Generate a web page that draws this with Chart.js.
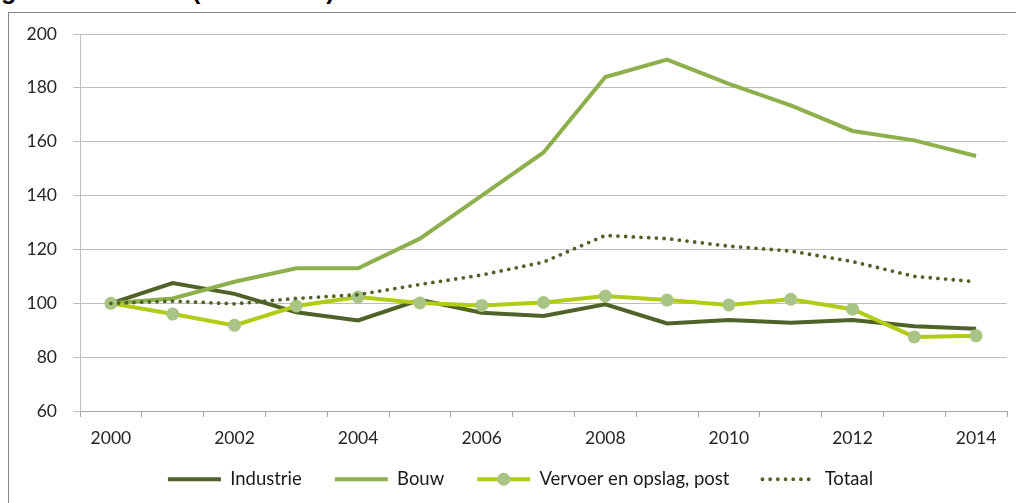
<!DOCTYPE html>
<html>
<head>
<meta charset="utf-8">
<script src="https://cdn.jsdelivr.net/npm/chart.js@4.4.1/dist/chart.umd.min.js"></script>
<style>
    html, body { margin: 0; padding: 0; background: #fff; overflow: hidden; }
    #wrap { position: relative; width: 1016px; height: 503px; overflow: hidden; }
    #frame { position: absolute; left: 8px; top: 12px; width: 1100px; height: 600px;
             border-left: 1px solid #868686; border-top: 1px solid #868686; }
    .title { position: absolute; top: -24px; line-height: 28px; font: bold 25px "Liberation Sans", Arial, sans-serif; color: #000; white-space: nowrap; }
    canvas { position: absolute; left: 0; top: 0; }
</style>
</head>
<body>
<div id="wrap">
    <div class="title" style="left:1px">g</div>
    <div class="title" style="left:192px">(2000 = 100)</div>
    <div id="frame"></div>
    <canvas id="chart" width="1016" height="503"></canvas>
</div>
<script>
// index, 2000 = 100
const years = ['2000', '2001', '2002', '2003', '2004', '2005', '2006', '2007',
               '2008', '2009', '2010', '2011', '2012', '2013', '2014'];
const industrie = [100, 107.5, 103.5, 96.7, 93.6, 101.3, 96.5, 95.3, 99.6, 92.5, 93.8, 92.8, 93.8, 91.5, 90.5];
const bouw      = [100, 101.8, 108, 113, 113, 124, 140, 156, 184, 190.5, 181.5, 173.5, 164, 160.5, 154.7];
const vervoer   = [100, 96, 91.8, 99, 102.3, 100.1, 99.2, 100.3, 102.7, 101.2, 99.4, 101.5, 97.8, 87.5, 87.9];
const totaal    = [100, 100.8, 99.8, 101.8, 103.2, 107, 110.5, 115.3, 125.2, 124, 121.2, 119.4, 115.5, 110, 108];
const yMin = 60, yMax = 200, yStep = 20;

const tickFont = { family: 'Lato, "Open Sans", sans-serif', size: 17.5 };
const legendFont = { family: 'Lato, "Open Sans", sans-serif', size: 18.5 };
const markerColor = '#A9C585';
const sampleWidth = 53;

// nudge the legend into the place it has in the original, and add the
// circle marker on the "Vervoer" sample
const legendTweaks = {
    id: 'legendTweaks',
    afterLayout(chart) {
        const lg = chart.legend;
        lg.top -= 14; lg.bottom -= 14;
        lg.left += 17; lg.right += 17;
    },
    afterDraw(chart) {
        const box = chart.legend.legendHitBoxes[2];
        if (!box) return;
        const ctx = chart.ctx;
        ctx.save();
        ctx.fillStyle = markerColor;
        ctx.beginPath();
        ctx.arc(box.left + sampleWidth / 2, box.top + box.height / 2, 6.5, 0, Math.PI * 2);
        ctx.fill();
        ctx.restore();
    }
};

new Chart(document.getElementById('chart'), {
    type: 'line',
    data: {
        labels: years,
        datasets: [
            { label: 'Industrie', data: industrie, borderColor: '#4F6228', borderWidth: 4,
              pointRadius: 0, order: 4 },
            { label: 'Bouw', data: bouw, borderColor: '#8DB04D', borderWidth: 4,
              pointRadius: 0, order: 3 },
            { label: 'Vervoer en opslag, post', data: vervoer, borderColor: '#B2CB14', borderWidth: 4,
              pointRadius: 6.5, pointBackgroundColor: markerColor, pointBorderColor: markerColor,
              pointBorderWidth: 0, order: 2 },
            { label: 'Totaal', data: totaal, borderColor: '#4F6228', borderWidth: 3.8,
              borderDash: [0, 7.7], borderCapStyle: 'round', pointRadius: 0, order: 1 }
        ]
    },
    options: {
        responsive: false,
        animation: false,
        layout: { padding: { top: 34, right: 9, left: 0, bottom: 0 } },
        plugins: {
            tooltip: { enabled: false },
            legend: {
                position: 'bottom',
                maxHeight: 52,
                labels: {
                    usePointStyle: true,
                    pointStyleWidth: sampleWidth,
                    boxWidth: sampleWidth,
                    padding: 33,
                    color: '#1a1a1a',
                    font: legendFont,
                    sort: (a, b) => a.datasetIndex - b.datasetIndex,
                    generateLabels: chart => chart.data.datasets.map((ds, i) => ({
                        text: ds.label,
                        datasetIndex: i,
                        strokeStyle: ds.borderColor,
                        fillStyle: ds.borderColor,
                        lineWidth: ds.borderWidth,
                        lineDash: ds.borderDash || [],
                        lineCap: ds.borderCapStyle || 'butt',
                        pointStyle: 'line',
                        fontColor: '#1a1a1a',
                        hidden: false
                    }))
                }
            }
        },
        scales: {
            x: {
                offset: true,
                grid: { offset: true, drawOnChartArea: false, drawTicks: true, tickLength: 6, color: '#A6A6A6' },
                border: { color: '#A6A6A6' },
                ticks: {
                    autoSkip: false, maxRotation: 0, padding: 11,
                    color: '#262626', font: tickFont,
                    callback: (v, i) => (i % 2 === 0 ? years[i] : '')
                },
                afterFit: s => { s.height = 40; }
            },
            y: {
                min: yMin, max: yMax,
                ticks: { stepSize: yStep, padding: 16, color: '#262626', font: tickFont },
                grid: { color: '#BFBFBF', tickLength: 7 },
                border: { color: '#BFBFBF' },
                afterFit: s => { s.width = 80; }
            }
        }
    },
    plugins: [legendTweaks]
});
</script>
</body>
</html>
